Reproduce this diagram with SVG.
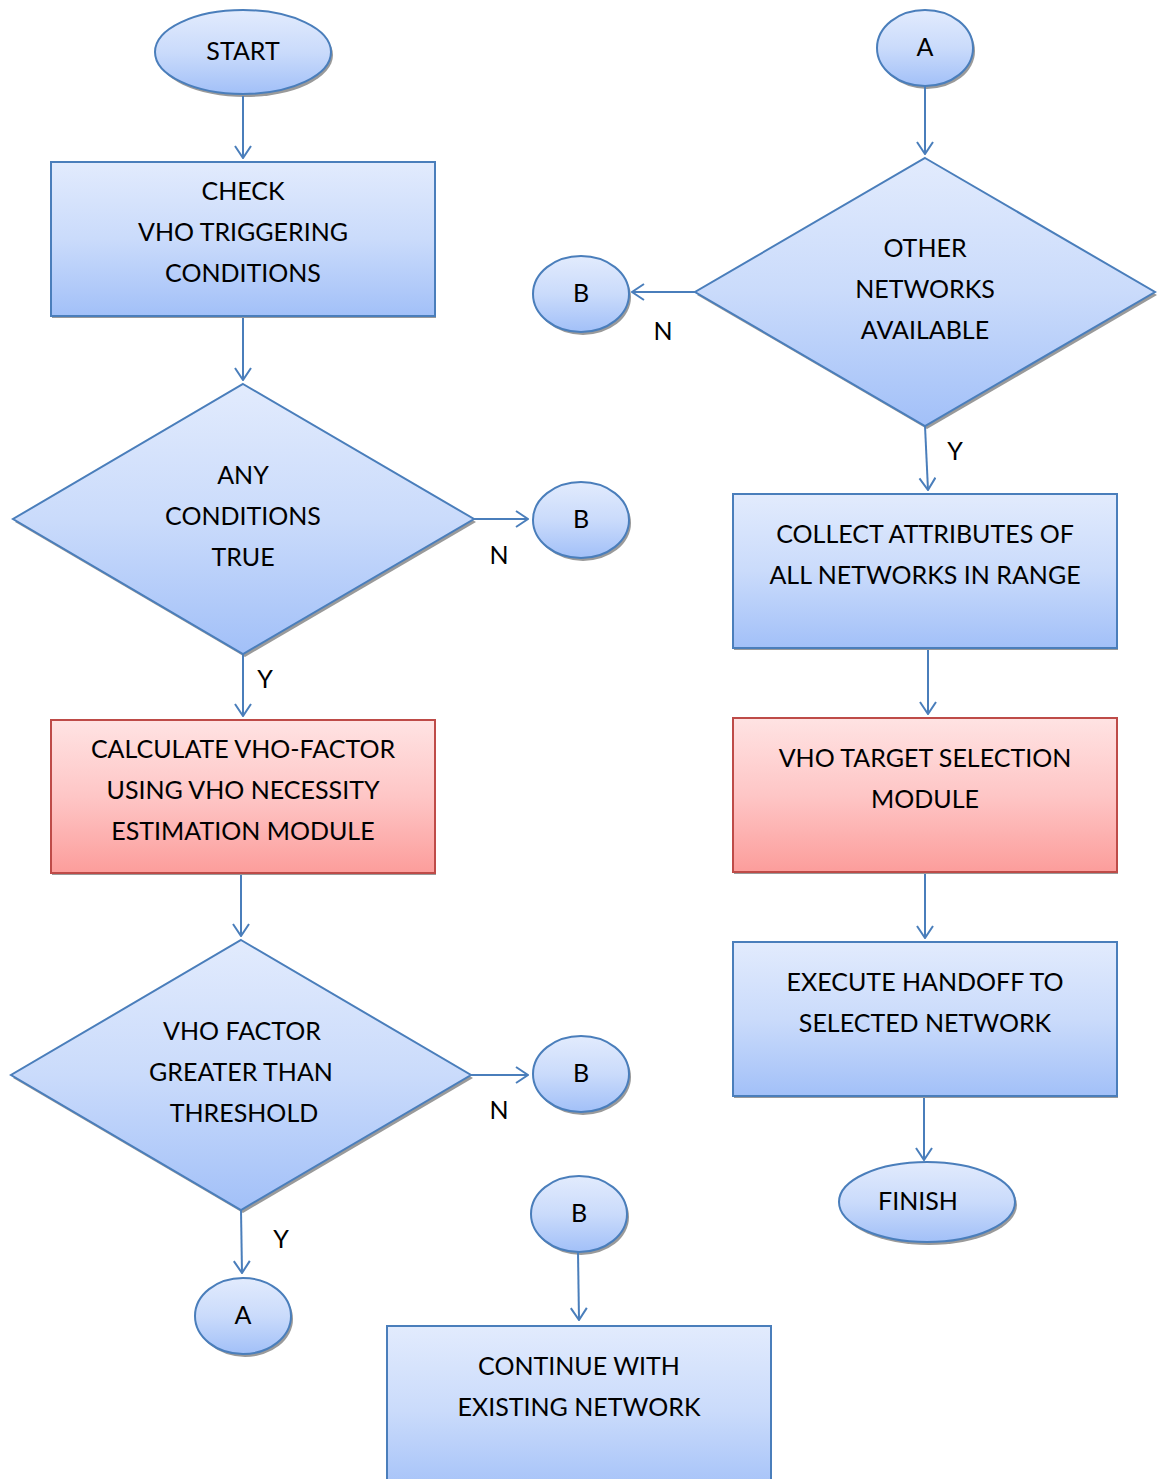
<svg xmlns="http://www.w3.org/2000/svg" width="1157" height="1479" viewBox="0 0 1157 1479">
  <defs>
    <linearGradient id="gBlue" x1="0" y1="0" x2="0" y2="1">
      <stop offset="0" stop-color="#e2ebfd"/>
      <stop offset="0.5" stop-color="#cadbfb"/>
      <stop offset="1" stop-color="#a2c0f8"/>
    </linearGradient>
    <linearGradient id="gRed" x1="0" y1="0" x2="0" y2="1">
      <stop offset="0" stop-color="#ffe3e3"/>
      <stop offset="0.5" stop-color="#fec6c6"/>
      <stop offset="1" stop-color="#fc9d9b"/>
    </linearGradient>
    <marker id="arrow" viewBox="0 0 14 18" refX="13" refY="9" markerWidth="14" markerHeight="18" markerUnits="userSpaceOnUse" orient="auto">
      <path d="M1,1 L13,9 L1,17" fill="none" stroke="#4a7ebb" stroke-width="2"/>
    </marker>
  </defs>
  <style>
    .blue { fill: url(#gBlue); stroke: #4a7ebb; stroke-width: 2; }
    .red { fill: url(#gRed); stroke: #be4b48; stroke-width: 2; }
    .shadow { fill: #9a9a9a; }
    .t { font-family: Lato, "Liberation Sans", sans-serif; font-size: 25px; fill: #000; text-anchor: middle; }
    .lbl { font-family: Lato, "Liberation Sans", sans-serif; font-size: 25px; fill: #000; text-anchor: middle; }
    .conn { fill: none; stroke: #4a7ebb; stroke-width: 2; marker-end: url(#arrow); }
  </style>

  <rect width="1157" height="1479" fill="#ffffff"/>

  <!-- left column -->
  <g id="start">
    <ellipse class="shadow" cx="245" cy="55" rx="88" ry="42"/>
    <ellipse class="blue" cx="243" cy="52" rx="88" ry="42"/>
    <text class="t" x="243" y="60">START</text>
  </g>

  <g id="check">
    <rect class="shadow" x="52" y="164" width="384" height="154"/>
    <rect class="blue" x="51" y="162" width="384" height="154"/>
    <text class="t" x="243" y="200">CHECK</text>
    <text class="t" x="243" y="241">VHO TRIGGERING</text>
    <text class="t" x="243" y="282">CONDITIONS</text>
  </g>

  <g id="anyConditions">
    <polygon class="shadow" points="245,387 476,522 245,657 15,522"/>
    <polygon class="blue" points="243,384 474,519 243,654 13,519"/>
    <text class="t" x="243" y="484">ANY</text>
    <text class="t" x="243" y="525">CONDITIONS</text>
    <text class="t" x="243" y="566">TRUE</text>
  </g>

  <g id="b1">
    <ellipse class="shadow" cx="583" cy="523" rx="48" ry="38"/>
    <ellipse class="blue" cx="581" cy="520" rx="48" ry="38"/>
    <text class="t" x="581" y="528">B</text>
  </g>

  <g id="calculate">
    <rect class="shadow" x="52" y="722" width="384" height="153"/>
    <rect class="red" x="51" y="720" width="384" height="153"/>
    <text class="t" x="243" y="758">CALCULATE VHO-FACTOR</text>
    <text class="t" x="243" y="799">USING VHO NECESSITY</text>
    <text class="t" x="243" y="840">ESTIMATION MODULE</text>
  </g>

  <g id="vhoFactor">
    <polygon class="shadow" points="243,943 473,1078 243,1213 13,1078"/>
    <polygon class="blue" points="241,940 471,1075 241,1210 11,1075"/>
    <text class="t" x="242" y="1040">VHO FACTOR</text>
    <text class="t" x="241" y="1081">GREATER THAN</text>
    <text class="t" x="244" y="1122">THRESHOLD</text>
  </g>

  <g id="b2">
    <ellipse class="shadow" cx="583" cy="1077" rx="48" ry="38"/>
    <ellipse class="blue" cx="581" cy="1074" rx="48" ry="38"/>
    <text class="t" x="581" y="1082">B</text>
  </g>

  <g id="a2">
    <ellipse class="shadow" cx="245" cy="1319" rx="48" ry="38"/>
    <ellipse class="blue" cx="243" cy="1316" rx="48" ry="38"/>
    <text class="t" x="243" y="1324">A</text>
  </g>

  <g id="b4">
    <ellipse class="shadow" cx="581" cy="1217" rx="48" ry="38"/>
    <ellipse class="blue" cx="579" cy="1214" rx="48" ry="38"/>
    <text class="t" x="579" y="1222">B</text>
  </g>

  <g id="continue">
    <rect class="blue" x="387" y="1326" width="384" height="170"/>
    <text class="t" x="579" y="1375">CONTINUE WITH</text>
    <text class="t" x="579" y="1416">EXISTING NETWORK</text>
  </g>

  <!-- right column -->
  <g id="a1">
    <ellipse class="shadow" cx="927" cy="51" rx="48" ry="38"/>
    <ellipse class="blue" cx="925" cy="48" rx="48" ry="38"/>
    <text class="t" x="925" y="56">A</text>
  </g>

  <g id="otherNetworks">
    <polygon class="shadow" points="927,161 1157,295 927,429 697,295"/>
    <polygon class="blue" points="925,158 1155,292 925,426 695,292"/>
    <text class="t" x="925" y="257">OTHER</text>
    <text class="t" x="925" y="298">NETWORKS</text>
    <text class="t" x="925" y="339">AVAILABLE</text>
  </g>

  <g id="b3">
    <ellipse class="shadow" cx="583" cy="297" rx="48" ry="38"/>
    <ellipse class="blue" cx="581" cy="294" rx="48" ry="38"/>
    <text class="t" x="581" y="302">B</text>
  </g>

  <g id="collect">
    <rect class="shadow" x="734" y="496" width="384" height="154"/>
    <rect class="blue" x="733" y="494" width="384" height="154"/>
    <text class="t" x="925" y="543">COLLECT ATTRIBUTES OF</text>
    <text class="t" x="925" y="584">ALL NETWORKS IN RANGE</text>
  </g>

  <g id="targetSelection">
    <rect class="shadow" x="734" y="720" width="384" height="154"/>
    <rect class="red" x="733" y="718" width="384" height="154"/>
    <text class="t" x="925" y="767">VHO TARGET SELECTION</text>
    <text class="t" x="925" y="808">MODULE</text>
  </g>

  <g id="execute">
    <rect class="shadow" x="734" y="944" width="384" height="154"/>
    <rect class="blue" x="733" y="942" width="384" height="154"/>
    <text class="t" x="925" y="991">EXECUTE HANDOFF TO</text>
    <text class="t" x="925" y="1032">SELECTED NETWORK</text>
  </g>

  <g id="finish">
    <ellipse class="shadow" cx="929" cy="1205" rx="88" ry="40"/>
    <ellipse class="blue" cx="927" cy="1202" rx="88" ry="40"/>
    <text class="t" x="918" y="1210">FINISH</text>
  </g>

  <!-- connectors -->
  <g id="connectors">
    <path class="conn" d="M243,96 L243,158"/>
    <path class="conn" d="M243,318 L243,380"/>
    <path class="conn" d="M474,519 L528,519"/>
    <path class="conn" d="M243,654 L243,716"/>
    <path class="conn" d="M241,875 L241,936"/>
    <path class="conn" d="M471,1075 L528,1075"/>
    <path class="conn" d="M241,1210 L242,1273"/>
    <path class="conn" d="M578,1252 L579,1320"/>
    <path class="conn" d="M925,86 L925,154"/>
    <path class="conn" d="M695,292 L632,292"/>
    <path class="conn" d="M925,426 L928,490"/>
    <path class="conn" d="M928,650 L928,714"/>
    <path class="conn" d="M925,874 L925,938"/>
    <path class="conn" d="M924,1098 L924,1160"/>
  </g>

  <!-- branch labels -->
  <g id="labels">
    <text class="lbl" x="499" y="564">N</text>
    <text class="lbl" x="265" y="688">Y</text>
    <text class="lbl" x="499" y="1119">N</text>
    <text class="lbl" x="281" y="1248">Y</text>
    <text class="lbl" x="663" y="340">N</text>
    <text class="lbl" x="955" y="460">Y</text>
  </g>
</svg>
